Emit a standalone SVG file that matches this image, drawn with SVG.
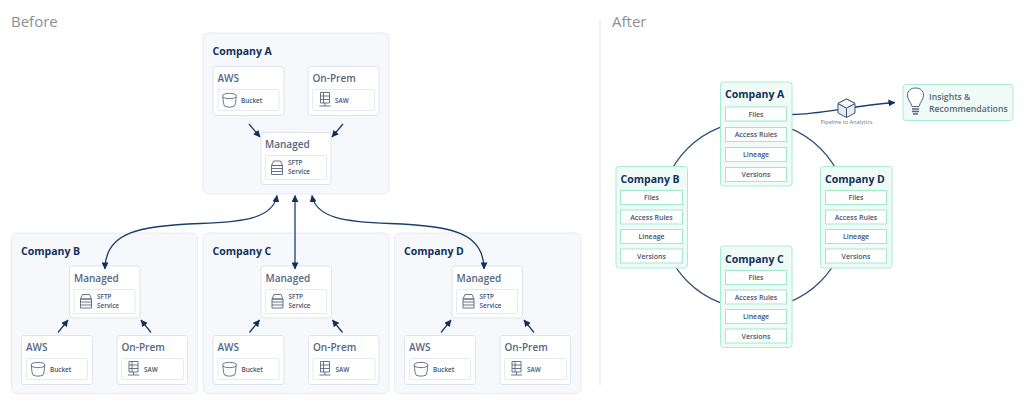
<svg xmlns="http://www.w3.org/2000/svg" width="1024" height="406" viewBox="0 0 1024 406">
<style>
text{font-family:"Open Sans","Noto Sans","Liberation Sans",sans-serif}
.h{font-size:15px;fill:#8a8f98}
.co{font-size:10.500px;font-weight:700;fill:#12305a}
.sub{font-size:10px;font-weight:600;fill:#55667f}
.sm{font-size:6.400px;font-weight:600;fill:#3f5270}
.sa{font-size:7px;font-weight:600;fill:#3f5270;text-anchor:middle}
.panel{fill:#f7f8fb;stroke:#e7eaf0;stroke-width:1}
.box{fill:#fff;stroke:#dfe3ec;stroke-width:1}
.inner{fill:#fff;stroke:#dfe3ec;stroke-width:.8}
.gbox{fill:#f0fbf7;stroke:#a9ecd6;stroke-width:1}
.gin{fill:#fff;stroke:#9fe8d0;stroke-width:1}
.ic{fill:none;stroke:#55667f;stroke-width:.9}
.cn{fill:none;stroke:#17406e;stroke-width:1.300}
.ring{fill:none;stroke:#2f4f78;stroke-width:1.200}
</style>
<defs>
<marker id="ah" viewBox="0 0 8 8" refX="7.500" refY="4" markerWidth="7" markerHeight="7" markerUnits="userSpaceOnUse" orient="auto-start-reverse"><path d="M0 0L8 4L0 8z" fill="#12305a"/></marker>
<g id="bucket"><path class="ic" d="M-7 -4C-7 -7.500 7 -7.500 7 -4C7 -.5 -7 -.5 -7 -4zM-6.500 -3C-6.500 1 -6 4 -5 6C-2 7.500 2 7.500 5 6C6 4 6.500 1 6.500 -3"/></g>
<g id="saw"><path class="ic" d="M-4.500 -7.500H4.500V3H-4.500zM-4.500 -4H4.500M-4.500 -.5H4.500M-1.500 -7.500V3M0 3V6M-5.500 6H5.500"/></g>
<g id="sftp"><path class="ic" d="M-3.500 -7H3.500L5.500 -2.500H-5.500zM-5.500 -2.500H5.500V6.500H-5.500zM-5.500 .5H5.500M-5.500 3.500H5.500"/></g>
</defs>

<text class="h" x="11" y="27">Before</text>
<text class="h" x="612" y="27">After</text>
<path d="M600 20V385" stroke="#dcdfe4" stroke-width="1" fill="none"/>

<g id="before-company-a">
<rect class="panel" x="203" y="33" width="186" height="161" rx="6"/>
<text class="co" x="212.500" y="55">Company A</text>
<rect class="box" x="213" y="66.500" width="71" height="49" rx="3"/>
<text class="sub" x="217.500" y="82">AWS</text>
<rect class="inner" x="218" y="89.500" width="61" height="21" rx="1"/>
<use href="#bucket" x="229.500" y="100"/><text class="sm" x="241" y="102.500">Bucket</text>
<rect class="box" x="308" y="66.500" width="71" height="49" rx="3"/>
<text class="sub" x="312.500" y="82">On-Prem</text>
<rect class="inner" x="312.500" y="89.500" width="62" height="21" rx="1"/>
<use href="#saw" x="325" y="100"/><text class="sm" x="335" y="102.500">SAW</text>
<rect class="box" x="261" y="132.500" width="70" height="52" rx="3"/>
<text class="sub" x="265" y="148">Managed</text>
<rect class="inner" x="265.500" y="155.500" width="61" height="24" rx="1"/>
<use href="#sftp" x="277" y="168"/><text class="sm" x="288" y="165">SFTP</text><text class="sm" x="288" y="174">Service</text>
</g>

<g id="before-company-b">
<rect class="panel" x="11.500" y="233" width="186" height="160.500" rx="6"/>
<text class="co" x="21" y="254.500">Company B</text>
<rect class="box" x="69.500" y="266" width="70.500" height="52" rx="3"/>
<text class="sub" x="74" y="282">Managed</text>
<rect class="inner" x="74" y="289.500" width="61" height="24" rx="1"/>
<use href="#sftp" x="86" y="301.500"/><text class="sm" x="97" y="299">SFTP</text><text class="sm" x="97" y="308">Service</text>
<rect class="box" x="21.500" y="335.500" width="71" height="49" rx="3"/>
<text class="sub" x="26" y="351">AWS</text>
<rect class="inner" x="26.500" y="358.500" width="61" height="21" rx="1"/>
<use href="#bucket" x="38" y="369"/><text class="sm" x="50" y="371.500">Bucket</text>
<rect class="box" x="117" y="335.500" width="70.500" height="49" rx="3"/>
<text class="sub" x="121.500" y="351">On-Prem</text>
<rect class="inner" x="121.500" y="358.500" width="62" height="21" rx="1"/>
<use href="#saw" x="133.500" y="369"/><text class="sm" x="144" y="371.500">SAW</text>
</g>

<g id="before-company-c">
<rect class="panel" x="203" y="233" width="186" height="160.500" rx="6"/>
<text class="co" x="212.500" y="254.500">Company C</text>
<rect class="box" x="261" y="266" width="70.500" height="52" rx="3"/>
<text class="sub" x="265.500" y="282">Managed</text>
<rect class="inner" x="265.500" y="289.500" width="61" height="24" rx="1"/>
<use href="#sftp" x="277.500" y="301.500"/><text class="sm" x="288.500" y="299">SFTP</text><text class="sm" x="288.500" y="308">Service</text>
<rect class="box" x="213" y="335.500" width="71" height="49" rx="3"/>
<text class="sub" x="217.500" y="351">AWS</text>
<rect class="inner" x="218" y="358.500" width="61" height="21" rx="1"/>
<use href="#bucket" x="229.500" y="369"/><text class="sm" x="241.500" y="371.500">Bucket</text>
<rect class="box" x="308.500" y="335.500" width="70.500" height="49" rx="3"/>
<text class="sub" x="313" y="351">On-Prem</text>
<rect class="inner" x="313" y="358.500" width="62" height="21" rx="1"/>
<use href="#saw" x="325" y="369"/><text class="sm" x="335.500" y="371.500">SAW</text>
</g>

<g id="before-company-d">
<rect class="panel" x="394.500" y="233" width="186.500" height="160.500" rx="6"/>
<text class="co" x="404" y="254.500">Company D</text>
<rect class="box" x="452" y="266" width="70.500" height="52" rx="3"/>
<text class="sub" x="456.500" y="282">Managed</text>
<rect class="inner" x="456.500" y="289.500" width="61" height="24" rx="1"/>
<use href="#sftp" x="468.500" y="301.500"/><text class="sm" x="479.500" y="299">SFTP</text><text class="sm" x="479.500" y="308">Service</text>
<rect class="box" x="404.500" y="335.500" width="71" height="49" rx="3"/>
<text class="sub" x="409" y="351">AWS</text>
<rect class="inner" x="409.500" y="358.500" width="61" height="21" rx="1"/>
<use href="#bucket" x="421" y="369"/><text class="sm" x="433" y="371.500">Bucket</text>
<rect class="box" x="500" y="335.500" width="70.500" height="49" rx="3"/>
<text class="sub" x="504.500" y="351">On-Prem</text>
<rect class="inner" x="504.500" y="358.500" width="62" height="21" rx="1"/>
<use href="#saw" x="516.500" y="369"/><text class="sm" x="527" y="371.500">SAW</text>
</g>

<g id="connectors">
<path class="cn" marker-end="url(#ah)" d="M249 124L260 137"/>
<path class="cn" marker-end="url(#ah)" d="M343 124L332 137"/>
<path class="cn" marker-end="url(#ah)" d="M58 332.500L68 320"/>
<path class="cn" marker-end="url(#ah)" d="M151 332.500L141 320"/>
<path class="cn" marker-end="url(#ah)" d="M249.500 332.500L259.500 320"/>
<path class="cn" marker-end="url(#ah)" d="M342.500 332.500L332.500 320"/>
<path class="cn" marker-end="url(#ah)" d="M441 332.500L451 320"/>
<path class="cn" marker-end="url(#ah)" d="M534 332.500L524 320"/>
<path class="cn" marker-start="url(#ah)" marker-end="url(#ah)" d="M277 195.500C273 218 245 222 200 223.500C140 225.500 105 232 105 269"/>
<path class="cn" marker-start="url(#ah)" marker-end="url(#ah)" d="M295 195.500V269"/>
<path class="cn" marker-start="url(#ah)" marker-end="url(#ah)" d="M312 195.500C316 218 345 222 390 223.500C450 225.500 484 232 484 269"/>
<circle class="ring" cx="754" cy="215" r="94"/>
<path class="cn" marker-end="url(#ah)" d="M792 114.500C820 114.500 850 106 895 102.500"/>
</g>

<g id="after-company-a">
<rect class="gbox" x="720.500" y="82" width="71.500" height="104" rx="3"/>
<text class="co" x="725" y="98">Company A</text>
<rect class="gin" x="725.500" y="107" width="61" height="14"/><text class="sa" x="756" y="116.500">Files</text>
<rect class="gin" x="725.500" y="127.500" width="61" height="14"/><text class="sa" x="756" y="137">Access Rules</text>
<rect class="gin" x="725.500" y="147.500" width="61" height="14"/><text class="sa" x="756" y="157">Lineage</text>
<rect class="gin" x="725.500" y="167.500" width="61" height="14"/><text class="sa" x="756" y="177">Versions</text>
</g>
<g id="after-company-b">
<rect class="gbox" x="616" y="166.500" width="71.500" height="101.500" rx="3"/>
<text class="co" x="620.500" y="183">Company B</text>
<rect class="gin" x="620.500" y="190.500" width="62" height="14"/><text class="sa" x="651.500" y="200">Files</text>
<rect class="gin" x="620.500" y="210" width="62" height="14"/><text class="sa" x="651.500" y="219.500">Access Rules</text>
<rect class="gin" x="620.500" y="229.500" width="62" height="14"/><text class="sa" x="651.500" y="239">Lineage</text>
<rect class="gin" x="620.500" y="249" width="62" height="14"/><text class="sa" x="651.500" y="258.500">Versions</text>
</g>
<g id="after-company-c">
<rect class="gbox" x="720.500" y="246" width="71.500" height="101.500" rx="3"/>
<text class="co" x="725" y="262.500">Company C</text>
<rect class="gin" x="725.500" y="270.500" width="61" height="14"/><text class="sa" x="756" y="280">Files</text>
<rect class="gin" x="725.500" y="290" width="61" height="14"/><text class="sa" x="756" y="299.500">Access Rules</text>
<rect class="gin" x="725.500" y="309.500" width="61" height="14"/><text class="sa" x="756" y="319">Lineage</text>
<rect class="gin" x="725.500" y="329" width="61" height="14"/><text class="sa" x="756" y="338.500">Versions</text>
</g>
<g id="after-company-d">
<rect class="gbox" x="820.500" y="166.500" width="71.500" height="101.500" rx="3"/>
<text class="co" x="825" y="183">Company D</text>
<rect class="gin" x="825.500" y="190.500" width="61" height="14"/><text class="sa" x="856" y="200">Files</text>
<rect class="gin" x="825.500" y="210" width="61" height="14"/><text class="sa" x="856" y="219.500">Access Rules</text>
<rect class="gin" x="825.500" y="229.500" width="61" height="14"/><text class="sa" x="856" y="239">Lineage</text>
<rect class="gin" x="825.500" y="249" width="61" height="14"/><text class="sa" x="856" y="258.500">Versions</text>
</g>

<g id="pipeline">
<path d="M846.500 99L855 103.500V113L846.500 117.500L838 113V103.500z" fill="#e8ebf1" stroke="#3a5478" stroke-width="1"/>
<path d="M838 103.500L846.500 108L855 103.500M846.500 108V117.500" fill="none" stroke="#3a5478" stroke-width="1"/>
<path d="M846.500 99L855 103.500L846.500 108L838 103.500z" fill="#fff" stroke="#3a5478" stroke-width="1"/>
<text x="846.500" y="123.500" font-size="5.600" fill="#6a7a92" text-anchor="middle">Pipeline to Analytics</text>
</g>

<g id="insights">
<rect class="gbox" x="903" y="84.500" width="110" height="36" rx="3"/>
<path d="M912 106.500C911 102 907.500 100 907.500 95C907.500 90.500 911 88 915.500 88C920 88 923.500 90.500 923.500 95C923.500 100 920 102 919 106.500z" fill="#fff" stroke="#55667f" stroke-width="1"/>
<path d="M912 109H919M912 111.500H919M913 114H918" fill="none" stroke="#55667f" stroke-width="1.500"/>
<text x="929" y="100" font-size="8.700" font-weight="600" fill="#55667f">Insights &amp;</text>
<text x="929" y="111.500" font-size="8.700" font-weight="600" fill="#55667f">Recommendations</text>
</g>
</svg>
